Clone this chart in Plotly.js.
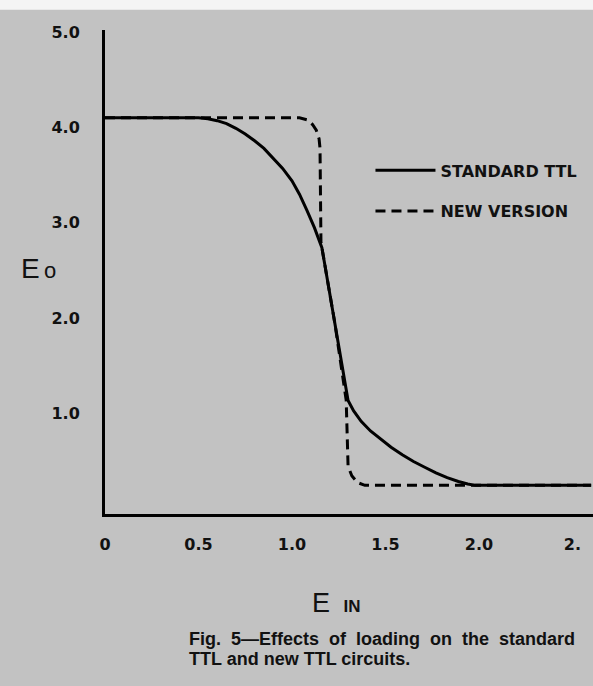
<!DOCTYPE html>
<html>
<head>
<meta charset="utf-8">
<script src="https://cdn.plot.ly/plotly-3.0.1.min.js"></script>
<style>
html,body{margin:0;padding:0;background:#c2c2c2;}
#chart{width:593px;height:686px;}
</style>
</head>
<body>
<div id="chart"></div>
<script>
// ---- data ----
var seriesNames = ["STANDARD TTL", "NEW VERSION"];

var stdX = [0, 0.5, 0.55, 0.6, 0.65, 0.7, 0.75, 0.8, 0.85, 0.9, 0.95, 1.0, 1.04, 1.08, 1.12, 1.16, 1.23, 1.3, 1.33, 1.37, 1.42, 1.47, 1.53, 1.59, 1.65, 1.71, 1.77, 1.83, 1.89, 1.94, 1.98, 2.2, 2.6];
var stdY = [4.1, 4.1, 4.09, 4.07, 4.04, 3.99, 3.93, 3.86, 3.78, 3.68, 3.57, 3.44, 3.3, 3.13, 2.95, 2.74, 1.94, 1.14, 1.03, 0.92, 0.82, 0.74, 0.65, 0.57, 0.5, 0.44, 0.38, 0.33, 0.29, 0.265, 0.25, 0.25, 0.25];

var newX = [0, 0.5, 1.0, 1.04, 1.08, 1.11, 1.13, 1.145, 1.15, 1.155, 1.16, 1.23, 1.29, 1.295, 1.3, 1.32, 1.35, 1.39, 1.6, 1.8, 1.97, 2.2, 2.6];
var newY = [4.1, 4.1, 4.1, 4.1, 4.08, 4.03, 3.97, 3.88, 3.78, 2.8, 2.74, 1.94, 1.14, 0.6, 0.45, 0.35, 0.28, 0.25, 0.25, 0.25, 0.25, 0.25, 0.25];

var xTickVals = [0, 0.5, 1.0, 1.5, 2.0, 2.5];
var xTickText = ["0", "0.5", "1.0", "1.5", "2.0", "2."];
var yTickVals = [1, 2, 3, 4, 5];
var yTickText = ["1.0", "2.0", "3.0", "4.0", "5.0"];

var xTitleMain = "E";
var xTitleSub = "IN";
var yTitleMain = "E";
var yTitleSub = "o";
var captionLines = ["Fig. 5\u2014Effects of loading on the standard", "TTL and new TTL circuits."];

// ---- traces ----
var traces = [
  {
    x: newX, y: newY, mode: "lines", name: seriesNames[1],
    line: {color: "#000", width: 3, dash: "10px,6px"},
    legendgroup: "b", legendrank: 2, hoverinfo: "skip"
  },
  {
    x: stdX, y: stdY, mode: "lines", name: seriesNames[0],
    line: {color: "#000", width: 3},
    legendgroup: "a", legendrank: 1, hoverinfo: "skip"
  }
];

var tickFont = {family: "DejaVu Sans", size: 16, color: "#111", weight: "bold"};
// caption line 1 is justified in the print: widen word gaps
var caption1 = captionLines[0].split(" ").join("\u00A0 ");

var layout = {
  width: 593, height: 686,
  paper_bgcolor: "#c2c2c2",
  plot_bgcolor: "rgba(0,0,0,0)",
  margin: {l: 105, r: 0, t: 30, b: 172},
  showlegend: true,
  legend: {
    x: 0.544, y: 0.745, xanchor: "left", yanchor: "top",
    bgcolor: "rgba(0,0,0,0)",
    font: {family: "DejaVu Sans", size: 16, color: "#111", weight: "bold"},
    itemwidth: 60,
    tracegroupgap: 17,
    traceorder: "grouped"
  },
  xaxis: {
    range: [0, 2.61], showgrid: false, zeroline: false,
    showline: true, linewidth: 3, linecolor: "#000",
    tickmode: "array", tickvals: xTickVals, ticktext: xTickText,
    ticks: "outside", ticklen: 14, tickcolor: "rgba(0,0,0,0)",
    tickfont: tickFont, fixedrange: true
  },
  yaxis: {
    range: [-0.05, 5.02], showgrid: false, zeroline: false,
    showline: true, linewidth: 3, linecolor: "#000",
    tickmode: "array", tickvals: yTickVals, ticktext: yTickText,
    ticks: "outside", ticklen: 19, tickcolor: "rgba(0,0,0,0)",
    tickfont: tickFont, fixedrange: true
  },
  shapes: [
    {type: "rect", xref: "paper", yref: "paper", x0: -0.3, x1: 1.1, y0: 1.042, y1: 1.1,
     fillcolor: "#f4f4f4", line: {width: 0}, layer: "below"}
  ],
  annotations: [
    {xref: "paper", yref: "paper", x: -0.176, y: 0.508, xanchor: "left", yanchor: "middle",
     showarrow: false,
     text: yTitleMain + "<span style='font-size:22px'>\u2009" + yTitleSub + "</span>",
     font: {family: "Liberation Sans", size: 28, color: "#111"}},
    {xref: "paper", yref: "paper", x: 0.42, y: -0.183, xanchor: "left", yanchor: "middle",
     showarrow: false,
     text: xTitleMain + "\u2002<span style='font-size:17px;font-weight:bold'>" + xTitleSub + "</span>",
     font: {family: "Liberation Sans", size: 27, color: "#111"}},
    {xref: "paper", yref: "paper", x: 0.168, y: -0.259, xanchor: "left", yanchor: "middle",
     showarrow: false, align: "left",
     text: caption1,
     font: {family: "Liberation Sans", size: 18, color: "#111", weight: "bold"}},
    {xref: "paper", yref: "paper", x: 0.168, y: -0.3, xanchor: "left", yanchor: "middle",
     showarrow: false, align: "left",
     text: captionLines[1],
     font: {family: "Liberation Sans", size: 18, color: "#111", weight: "bold"}}
  ]
};

Plotly.newPlot("chart", traces, layout, {displayModeBar: false, staticPlot: true});
</script>
</body>
</html>
